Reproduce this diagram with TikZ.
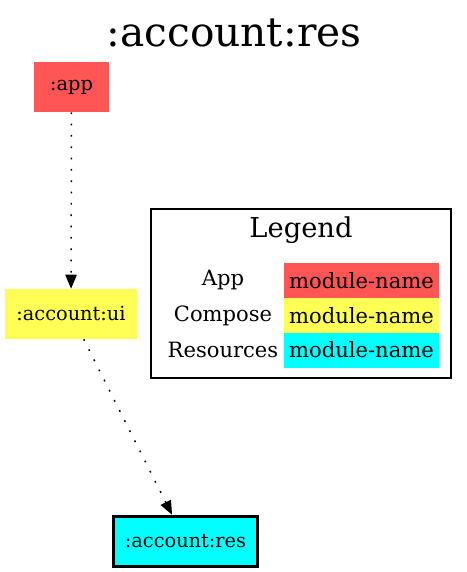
\documentclass[tikz,border=0pt]{standalone}
\usepackage{fontspec}
\setmainfont{DejaVu Serif}
\usetikzlibrary{arrows.meta}
\definecolor{appred}{HTML}{FF5555}
\definecolor{composeyellow}{HTML}{FFFF55}
\definecolor{rescyan}{HTML}{00FFFF}

\begin{document}
\begin{tikzpicture}[x=0.75pt,y=-0.75pt,
	module_node/.style={rectangle,inner sep=0pt,minimum height=37.5pt,font=\fontsize{14.5}{16}\selectfont},
	app_node/.style={module_node,fill=appred,minimum width=56.25pt},
	compose_node/.style={module_node,fill=composeyellow,minimum width=99pt},
	res_node/.style={module_node,fill=rescyan,draw=black,line width=2.6pt,minimum width=108pt},
	key_node/.style={inner sep=0pt,font=\fontsize{15.8}{18}\selectfont},
	cell_node/.style={key_node,minimum width=116.25pt,minimum height=26.25pt},
	dep_edge/.style={line width=1.1pt,dash pattern=on 1.3pt off 7.2pt,-{Triangle[length=10.5pt,width=8.5pt]}}]
		
		\useasboundingbox (0,0) rectangle (467,572);
		
		\node[anchor=base,font=\fontsize{30.5}{34}\selectfont,inner sep=0pt] (title) at (234,46) {:account:res};
		
		\node[app_node] (app) at (71.5,87) {:app};
		\node[compose_node] (ui) at (71,314) {:account:ui};
		\node[res_node] (res) at (185.5,541.5) {:account:res};
		
		% legend
		\node[draw=black,line width=0.8pt,minimum width=225pt,minimum height=126.75pt,inner sep=0pt] (legend) at (301,293.5) {};
		\node[anchor=base,font=\fontsize{20.5}{24}\selectfont,inner sep=0pt] (legend_title) at (301,237) {Legend};
		\node[key_node] (key_app) at (223,280.5) {App};
		\node[key_node] (key_compose) at (223,315.5) {Compose};
		\node[key_node] (key_res) at (223,350) {Resources};
		\node[cell_node,fill=appred] (cell_app) at (361.5,280.5) {module-name};
		\node[cell_node,fill=composeyellow] (cell_compose) at (361.5,315.5) {module-name};
		\node[cell_node,fill=rescyan] (cell_res) at (361.5,350) {module-name};
		
		\draw[dep_edge] (app) -- (ui);
		\draw[dep_edge] (ui) -- (res);
		\end{tikzpicture}
\end{document}
